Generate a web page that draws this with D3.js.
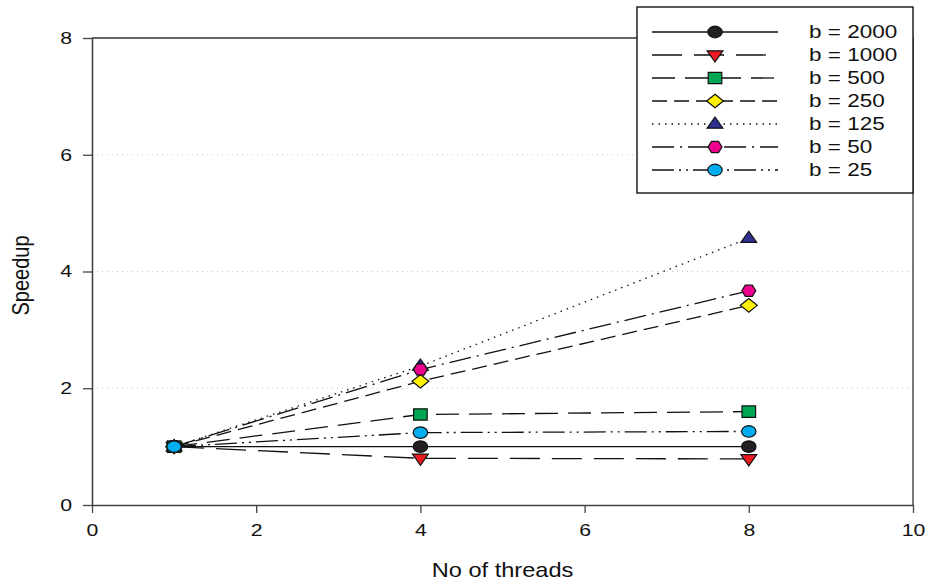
<!DOCTYPE html>
<html>
<head>
<meta charset="utf-8">
<script src="https://cdn.jsdelivr.net/npm/d3@7"></script>
<style>
  body { margin: 0; background: #fff; }
  svg { font-family: "Liberation Sans", Arial, sans-serif; }
</style>
</head>
<body>
<div class="vis-speedup"></div>
<script>
// threads on the x axis
const threads = [1, 4, 8];

// speedup per block size
const b2000 = [1.0, 1.0, 1.0];
const b1000 = [1.0, 0.8, 0.79];
const b500 = [1.0, 1.55, 1.6];
const b250 = [1.0, 2.12, 3.42];
const b125 = [1.0, 2.38, 4.57];
const b50 = [1.0, 2.32, 3.67];
const b25 = [1.0, 1.24, 1.26];

const seriesLabels = ['b = 2000', 'b = 1000', 'b = 500', 'b = 250', 'b = 125', 'b = 50', 'b = 25'];
const seriesValues = [b2000, b1000, b500, b250, b125, b50, b25];

const xTicks = [0, 2, 4, 6, 8, 10];
const yTicks = [0, 2, 4, 6, 8];
const gridTicks = [2, 4, 6];

// styling per series
const styles = [
    { dash: null, shape: 'circle', fill: '#231f20' },
    { dash: '30,12', shape: 'down', fill: '#ed1c24' },
    { dash: '23,10', shape: 'square', fill: '#00a651' },
    { dash: '15,7', shape: 'diamond', fill: '#fff200' },
    { dash: '1.5,5', shape: 'up', fill: '#2e3192' },
    { dash: '22,6,2,6', shape: 'hex', fill: '#ec008c' },
    { dash: '22,5,2,5,2,5', shape: 'circle', fill: '#00aeef' },
];

// the picture is stretched sideways, so text is too
const SX = 1.25;

const margin = { top: 38, right: 15, bottom: 79, left: 92 };
const W = 928, H = 584;
const width = W - margin.left - margin.right;
const height = H - margin.top - margin.bottom;

const svg = d3.select('.vis-speedup')
    .append('svg')
    .attr('width', W)
    .attr('height', H);

const g = svg.append('g')
    .attr('transform', 'translate(' + margin.left + ',' + margin.top + ')');

const x = d3.scaleLinear().domain([0, 10]).range([0, width]);
const y = d3.scaleLinear().domain([0, 8]).range([height, 0]);

// dotted grid lines
g.selectAll('.grid')
    .data(gridTicks)
    .enter()
    .append('line')
    .attr('x1', 0)
    .attr('x2', width)
    .attr('y1', d => y(d))
    .attr('y2', d => y(d))
    .attr('stroke', '#c8c8c8')
    .attr('stroke-width', 1)
    .attr('stroke-dasharray', '1,4');

// frame (top and right)
g.append('path')
    .attr('d', 'M0,0H' + width + 'V' + height)
    .attr('fill', 'none')
    .attr('stroke', '#333')
    .attr('stroke-width', 1.3);

// axes
const xAxis = g.append('g')
    .attr('transform', 'translate(0,' + height + ')')
    .call(d3.axisBottom(x).tickValues(xTicks).tickSize(8).tickPadding(6).tickSizeOuter(0));
const yAxis = g.append('g')
    .call(d3.axisLeft(y).tickValues(yTicks).tickSize(9).tickPadding(7).tickSizeOuter(0));

[xAxis, yAxis].forEach(a => {
    a.select('.domain').attr('stroke', '#444').attr('stroke-width', 1.6);
    a.selectAll('.tick line').attr('stroke', '#444').attr('stroke-width', 1.3);
    a.selectAll('.tick text')
        .attr('fill', '#111')
        .style('font-size', '17px')
        .style('font-family', '"Liberation Sans", Arial, sans-serif');
});
xAxis.selectAll('.tick text')
    .attr('y', 0)
    .attr('dy', 0)
    .attr('transform', 'translate(0,31) scale(' + SX + ',1)');
yAxis.selectAll('.tick text')
    .attr('x', 0)
    .attr('transform', 'translate(-20,0) scale(' + SX + ',1)');

// axis labels
g.append('text')
    .attr('text-anchor', 'middle')
    .attr('transform', 'translate(' + (width / 2) + ',' + (height + 72) + ') scale(1.18,1)')
    .attr('fill', '#111')
    .style('font-size', '20px')
    .text('No of threads');

g.append('text')
    .attr('transform', 'translate(-63,' + (y(4) + 4) + ') scale(1.18,1) rotate(-90)')
    .attr('text-anchor', 'middle')
    .attr('fill', '#111')
    .style('font-size', '20px')
    .text('Speedup');

// marker shapes, already widened to match the picture
const markerPath = (shape) => {
    if (shape === 'circle') return 'M-7.2,0A7.2,5.8 0 1,0 7.2,0A7.2,5.8 0 1,0 -7.2,0Z';
    if (shape === 'square') return 'M-6.8,-5.7H6.8V5.7H-6.8Z';
    if (shape === 'diamond') return 'M0,-6.8L8.4,0L0,6.8L-8.4,0Z';
    if (shape === 'up') return 'M0,-7L7.9,4.2L-7.9,4.2Z';
    if (shape === 'down') return 'M0,7L7.9,-4.2L-7.9,-4.2Z';
    if (shape === 'hex') {
        const pts = d3.range(6).map(i => {
            const a = i * Math.PI / 3;
            return [7 * Math.cos(a), 5.6 * Math.sin(a) / Math.sin(Math.PI / 3)].map(v => v.toFixed(2));
        });
        return 'M' + pts.join('L') + 'Z';
    }
};

const line = d3.line()
    .x((d, i) => x(threads[i]))
    .y(d => y(d));

// lines first, then markers on top
seriesValues.forEach((vals, k) => {
    g.append('path')
        .datum(vals)
        .attr('d', line)
        .attr('fill', 'none')
        .attr('stroke', '#111')
        .attr('stroke-width', 1.3)
        .attr('stroke-dasharray', styles[k].dash);
});

seriesValues.forEach((vals, k) => {
    g.selectAll('.m' + k)
        .data(vals)
        .enter()
        .append('path')
        .attr('transform', (d, i) => 'translate(' + x(threads[i]) + ',' + y(d) + ')')
        .attr('d', markerPath(styles[k].shape))
        .attr('fill', styles[k].fill)
        .attr('stroke', '#111')
        .attr('stroke-width', 1.2);
});

// legend
const legend = svg.append('g').attr('transform', 'translate(637,7)');
legend.append('rect')
    .attr('width', 276)
    .attr('height', 186)
    .attr('fill', '#fff')
    .attr('stroke', '#111')
    .attr('stroke-width', 1.4);

seriesLabels.forEach((lab, k) => {
    const row = legend.append('g').attr('transform', 'translate(0,' + (25 + k * 23) + ')');
    row.append('line')
        .attr('x1', 15)
        .attr('x2', 141)
        .attr('stroke', '#111')
        .attr('stroke-width', 1.3)
        .attr('stroke-dasharray', styles[k].dash);
    row.append('path')
        .attr('transform', 'translate(78,0)')
        .attr('d', markerPath(styles[k].shape))
        .attr('fill', styles[k].fill)
        .attr('stroke', '#111')
        .attr('stroke-width', 1.2);
    row.append('text')
        .attr('transform', 'translate(172,0) scale(' + SX + ',1)')
        .attr('dy', '0.35em')
        .attr('fill', '#111')
        .style('font-size', '18px')
        .text(lab);
});
</script>
</body>
</html>
